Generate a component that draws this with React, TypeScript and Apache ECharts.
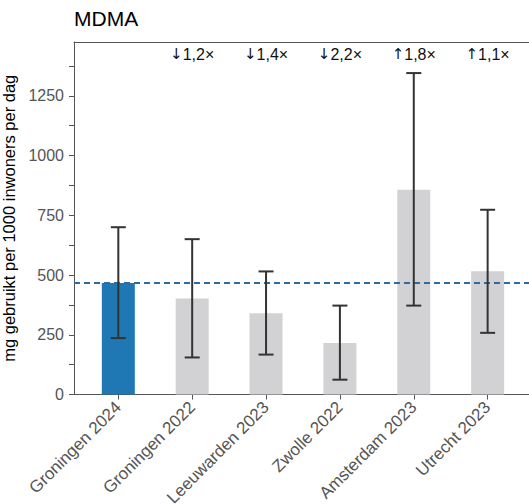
import React, { useEffect, useRef } from "react";
import * as echarts from "echarts";

const categories = [
  "Groningen 2024",
  "Groningen 2022",
  "Leeuwarden 2023",
  "Zwolle 2022",
  "Amsterdam 2023",
  "Utrecht 2023",
];
const values = [467, 402, 340, 216, 857, 516];
const lowerBounds = [236, 155, 167, 62, 372, 258];
const upperBounds = [700, 650, 515, 372, 1345, 773];
const ratioArrows = ["", "↓", "↓", "↓", "↑", "↑"];
const ratioLabels = ["", "1,2×", "1,4×", "2,2×", "1,8×", "1,1×"];
const referenceValue = values[0];
const yTicks = [0, 125, 250, 375, 500, 625, 750, 875, 1000, 1125, 1250, 1375];
const yLabels = [0, 250, 500, 750, 1000, 1250];

const FONT = "'Liberation Sans', 'DejaVu Sans', Arial, sans-serif";
const AXIS_COLOR = "#555555";

export default function App() {
  const ref = useRef<HTMLDivElement>(null);

  useEffect(() => {
    if (!ref.current) return;
    const chart = echarts.init(ref.current, null, { renderer: "svg" });
    const idx = categories.map((_, i) => i);

    const option: any = {
      animation: false,
      textStyle: { fontFamily: FONT },
      title: {
        text: "MDMA",
        left: 74,
        top: 8,
        padding: 0,
        textStyle: { fontSize: 21, fontWeight: "normal", color: "#000", fontFamily: FONT },
      },
      grid: {
        left: 74,
        top: 42,
        bottom: 109.5,
        right: 0,
        outerBoundsMode: "none",
        containLabel: false,
      },
      xAxis: [
        {
          type: "value",
          min: -0.6,
          max: 5.56,
          splitLine: { show: false },
          axisLine: { show: true, onZero: false, lineStyle: { color: AXIS_COLOR, width: 1 } },
          axisTick: { show: true, customValues: idx, length: 5, lineStyle: { color: AXIS_COLOR } },
          axisLabel: {
            customValues: idx,
            rotate: 45,
            fontSize: 17,
            color: AXIS_COLOR,
            fontFamily: FONT,
            margin: 10,
            formatter: (v: number) => categories[Math.round(v)] ?? "",
          },
        },
        {
          type: "value",
          position: "top",
          min: -0.6,
          max: 5.56,
          splitLine: { show: false },
          axisLine: { show: true, onZero: false, lineStyle: { color: AXIS_COLOR, width: 1 } },
          axisTick: { show: false },
          axisLabel: { show: false },
        },
      ],
      yAxis: {
        type: "value",
        min: 0,
        max: 1475,
        name: "mg gebruikt per 1000 inwoners per dag",
        nameLocation: "middle",
        nameGap: 47,
        nameTextStyle: { fontSize: 16.5, color: "#000", fontFamily: FONT },
        splitLine: { show: false },
        axisLine: { show: true, onZero: false, lineStyle: { color: AXIS_COLOR, width: 1 } },
        axisTick: { show: true, customValues: yTicks, length: 5, lineStyle: { color: AXIS_COLOR } },
        axisLabel: {
          customValues: yLabels,
          fontSize: 16,
          color: AXIS_COLOR,
          fontFamily: FONT,
          margin: 10,
          formatter: (v: number) => String(v),
        },
      },
      series: [
        {
          type: "bar",
          barWidth: 33,
          data: values.map((v, i) => ({
            value: [i, v],
            itemStyle: { color: i === 0 ? "#1f77b4" : "#d2d2d4" },
          })),
          markLine: {
            silent: true,
            symbol: "none",
            label: { show: false },
            lineStyle: { color: "#2a6ca6", type: [6, 4], width: 2 },
            data: [{ yAxis: referenceValue }],
          },
        },
        {
          type: "custom",
          data: idx.map((i) => [i, lowerBounds[i], upperBounds[i]]),
          renderItem: (params: any, api: any) => {
            const x = api.value(0);
            const lo = api.coord([x, api.value(1)]);
            const hi = api.coord([x, api.value(2)]);
            const half = 7.5;
            const style = { stroke: "#333333", lineWidth: 2 };
            return {
              type: "group",
              children: [
                { type: "line", shape: { x1: lo[0], y1: lo[1], x2: hi[0], y2: hi[1] }, style },
                { type: "line", shape: { x1: lo[0] - half, y1: lo[1], x2: lo[0] + half, y2: lo[1] }, style },
                { type: "line", shape: { x1: hi[0] - half, y1: hi[1], x2: hi[0] + half, y2: hi[1] }, style },
              ],
            };
          },
          z: 5,
        },
        {
          type: "custom",
          data: idx.map((i) => [i, 0]),
          renderItem: (params: any, api: any) => {
            const i = api.value(0);
            if (!ratioLabels[i]) return null;
            const p = api.coord([i, 0]);
            const top = params.coordSys.y;
            return {
              type: "text",
              style: {
                text: "{a|" + ratioArrows[i] + "}{b|" + ratioLabels[i] + "}",
                x: p[0],
                y: top + 12,
                align: "center",
                verticalAlign: "middle",
                rich: {
                  a: { fontSize: 15, fontFamily: "'DejaVu Sans', sans-serif", fill: "#111", color: "#111" },
                  b: { fontSize: 16, fontFamily: FONT, fill: "#111", color: "#111" },
                },
              },
            };
          },
          z: 6,
        },
      ],
    };

    chart.setOption(option);
    return () => chart.dispose();
  }, []);

  return (
    <div
      ref={ref}
      style={{ position: "fixed", left: 0, top: 0, width: 529, height: 504, background: "#fff" }}
    />
  );
}
